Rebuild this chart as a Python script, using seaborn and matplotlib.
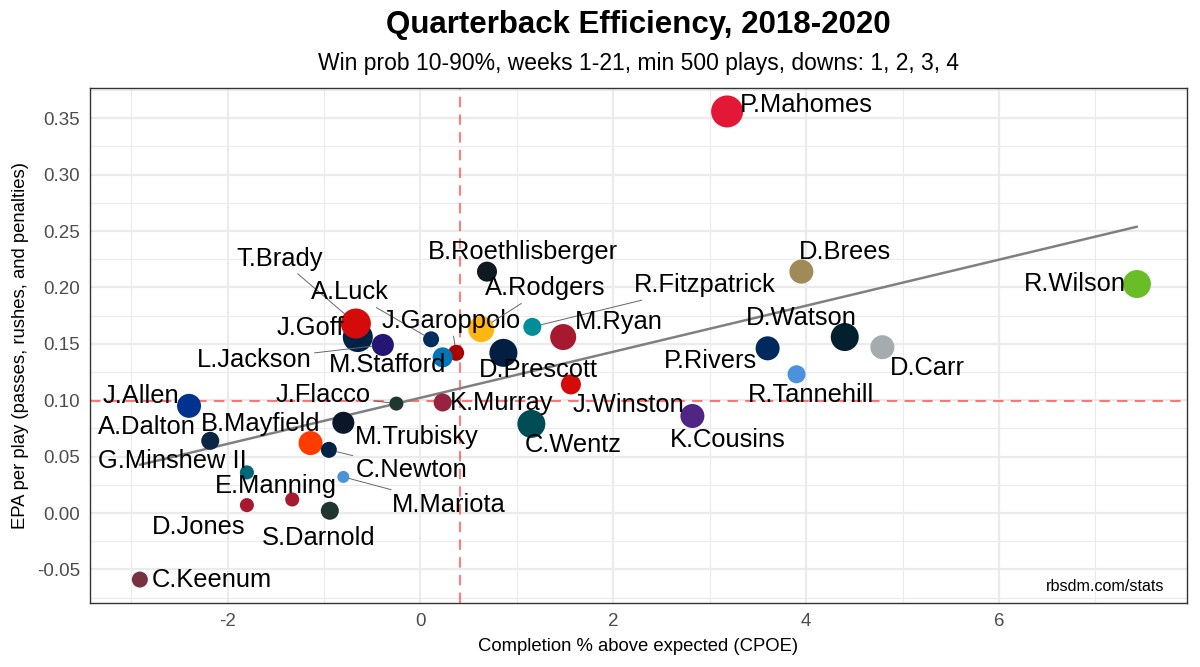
import numpy as np
import pandas as pd
import matplotlib
matplotlib.use("Agg")
import matplotlib.pyplot as plt
import seaborn as sns

# ---------------- data ----------------
qbs = ["P.Mahomes", "B.Roethlisberger", "D.Brees", "R.Wilson", "J.Goff", "T.Brady",
       "L.Jackson", "A.Luck", "J.Garoppolo", "M.Stafford", "A.Rodgers", "R.Fitzpatrick",
       "D.Prescott", "M.Ryan", "J.Winston", "K.Murray", "C.Wentz", "J.Flacco",
       "M.Trubisky", "B.Mayfield", "C.Newton", "M.Mariota", "A.Dalton", "J.Allen",
       "G.Minshew II", "E.Manning", "D.Jones", "S.Darnold", "C.Keenum", "D.Watson",
       "D.Carr", "P.Rivers", "R.Tannehill", "K.Cousins"]
cpoe = [3.18, 0.69, 3.95, 7.43, -0.65, -0.67,
        -0.39, 0.11, 0.37, 0.23, 0.63, 1.16,
        0.86, 1.48, 1.56, 0.23, 1.15, -0.25,
        -0.80, -1.14, -0.95, -0.80, -2.18, -2.40,
        -1.80, -1.33, -1.80, -0.94, -2.91, 4.40,
        4.79, 3.60, 3.90, 2.82]
epa = [0.356, 0.214, 0.214, 0.203, 0.156, 0.168,
       0.149, 0.154, 0.142, 0.138, 0.163, 0.165,
       0.142, 0.156, 0.114, 0.098, 0.079, 0.097,
       0.080, 0.062, 0.056, 0.032, 0.064, 0.095,
       0.036, 0.012, 0.007, 0.002, -0.059, 0.156,
       0.147, 0.146, 0.123, 0.086]
plays = [2150, 980, 1310, 1700, 1920, 1920,
         1140, 710, 710, 980, 1500, 840,
         1700, 1500, 980, 840, 1700, 600,
         1140, 1310, 710, 500, 840, 1310,
         600, 600, 600, 840, 710, 1700,
         1310, 1310, 840, 1310]
team_colors = ["#E31837", "#101820", "#A08A58", "#69BE28", "#002244", "#D50A0A",
               "#241773", "#002C5F", "#AA0000", "#0076B6", "#FFB612", "#008E97",
               "#041E42", "#A71930", "#D50A0A", "#97233F", "#004C54", "#203731",
               "#0B162A", "#FF3C00", "#002244", "#4B92DB", "#0B2645", "#00338D",
               "#006778", "#A71930", "#A71930", "#203731", "#773141", "#03202F",
               "#A5ACAF", "#002A5E", "#4B92DB", "#4F2683"]
cpoe_avg = 0.415
epa_avg = 0.099

title = "Quarterback Efficiency, 2018-2020"
subtitle = "Win prob 10-90%, weeks 1-21, min 500 plays, downs: 1, 2, 3, 4"
xlabel = "Completion % above expected (CPOE)"
ylabel = "EPA per play (passes, rushes, and penalties)"
caption = "rbsdm.com/stats"
xticks = [-2, 0, 2, 4, 6]
yticks = [-0.05, 0.00, 0.05, 0.10, 0.15, 0.20, 0.25, 0.30, 0.35]

# label layout: offset of label centre from point in pixels, and whether a segment is drawn
label_layout = {
    "P.Mahomes": (79, 6, False), "B.Roethlisberger": (36, 20, False),
    "D.Brees": (44, 20, False), "R.Wilson": (-62, 0, False),
    "T.Brady": (-76, 65, True), "A.Luck": (-81, 47, True),
    "J.Goff": (-47, 9, False), "J.Garoppolo": (-5, 32, True),
    "A.Rodgers": (64, 41, True), "R.Fitzpatrick": (172, 42, True),
    "M.Ryan": (56, 15, False), "L.Jackson": (-129, -15, True),
    "M.Stafford": (-55, -8, False), "D.Prescott": (35, -17, False),
    "J.Winston": (58, -21, False), "K.Murray": (59, -1, False),
    "C.Wentz": (42, -21, False), "J.Flacco": (-73, 9, True),
    "M.Trubisky": (73, -14, False), "B.Mayfield": (-50, 19, False),
    "A.Dalton": (-63, 14, False), "J.Allen": (-48, 10, False),
    "G.Minshew II": (-75, 11, False), "C.Newton": (83, -20, True),
    "E.Manning": (-16, 13, False), "M.Mariota": (105, -28, True),
    "D.Jones": (-48, -22, False), "S.Darnold": (-11, -27, False),
    "C.Keenum": (72, 0, False), "D.Watson": (-43, 19, False),
    "D.Carr": (45, -21, False), "P.Rivers": (-57, -13, False),
    "R.Tannehill": (14, -21, False), "K.Cousins": (35, -24, False),
}

df = pd.DataFrame({"qb": qbs, "cpoe": cpoe, "epa": epa, "plays": plays})
palette = dict(zip(qbs, team_colors))

# ---------------- figure ----------------
sns.set_theme(style="white")
plt.rcParams["font.family"] = ["Liberation Sans", "DejaVu Sans"]

fig = plt.figure(figsize=(12, 6.67), dpi=100)
ax = fig.add_axes([0.075, 0.096, 0.914, 0.772])

# limits with 5% expansion like ggplot
xr = max(cpoe) - min(cpoe)
yr = max(epa) - min(epa)
ax.set_xlim(min(cpoe) - 0.05 * xr, max(cpoe) + 0.05 * xr)
ax.set_ylim(min(epa) - 0.05 * yr, max(epa) + 0.05 * yr)

# grid (theme_bw)
ax.set_xticks(xticks)
ax.set_yticks(yticks)
ax.set_xticks([-3, -1, 1, 3, 5, 7], minor=True)
ax.set_yticks([-0.075, -0.025, 0.025, 0.075, 0.125, 0.175, 0.225, 0.275, 0.325, 0.375], minor=True)
ax.grid(True, which="major", color="#EBEBEB", lw=1.6, zorder=0)
ax.grid(True, which="minor", color="#EBEBEB", lw=0.8, zorder=0)
ax.set_axisbelow(True)
ax.tick_params(which="minor", length=0)
ax.tick_params(which="major", length=4, width=1, color="#333333",
               labelcolor="#4D4D4D", labelsize=13.5, pad=3)
ax.set_xticklabels([f"{t:d}" for t in xticks])
ax.set_yticklabels([f"{t:.2f}" for t in yticks])
for s in ax.spines.values():
    s.set_color("#333333")
    s.set_linewidth(1.0)

# reference lines
ax.axvline(cpoe_avg, color="red", alpha=0.5, lw=1.5, ls=(0, (5, 3.5)), zorder=1)
ax.axhline(epa_avg, color="red", alpha=0.5, lw=1.5, ls=(0, (5, 3.5)), zorder=1)

# regression line
sns.regplot(data=df, x="cpoe", y="epa", scatter=False, ci=None, ax=ax,
            line_kws=dict(color="#808080", lw=1.8, zorder=2))

# points
sns.scatterplot(data=df, x="cpoe", y="epa", hue="qb", palette=palette,
                size="plays", sizes=(75, 531), size_norm=(500, 2150),
                linewidth=0, legend=False, ax=ax, zorder=3)

# labels
smin, smax, nmin, nmax = 75, 531, 500, 2150
for q, x, y, p in zip(qbs, cpoe, epa, plays):
    dx, dy, seg = label_layout[q]
    s = smin + (p - nmin) / (nmax - nmin) * (smax - smin)
    rad_pt = np.sqrt(s) / 2
    arrow = dict(arrowstyle="-", color="#666666", lw=0.7, shrinkA=0,
                 shrinkB=rad_pt) if seg else None
    ax.annotate(q, xy=(x, y), xytext=(dx, dy), textcoords="offset pixels",
                ha="center", va="center", fontsize=18.4, color="black",
                arrowprops=arrow, zorder=4)

ax.text(0.98, 0.017, caption, transform=ax.transAxes, ha="right", va="bottom",
        fontsize=11.6, color="black")

ax.set_xlabel(xlabel, fontsize=13.3, color="black", labelpad=6)
ax.set_ylabel(ylabel, fontsize=13.3, color="black", labelpad=6)

px_center = 0.075 + 0.914 / 2
fig.text(px_center, 0.962, title, ha="center", va="center", fontsize=22.5,
         fontweight="bold", color="black")
fig.text(px_center, 0.905, subtitle, ha="center", va="center", fontsize=16.5,
         color="black")

fig.savefig("out.png", dpi=100)
